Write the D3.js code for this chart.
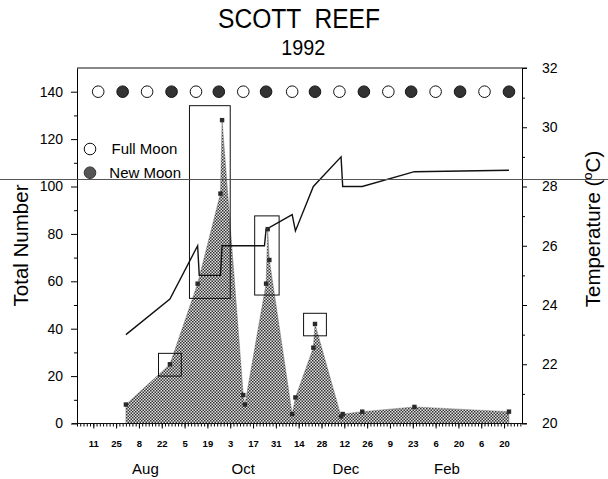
<!DOCTYPE html>
<html>
<head>
<meta charset="utf-8">
<script src="https://cdn.jsdelivr.net/npm/d3@7"></script>
<style>
  body { margin: 0; background: #fff; }
  svg { display: block; font-family: "Liberation Sans", Arial, Helvetica, sans-serif; }
</style>
</head>
<body>
<div id="chart"></div>
<script>
const parse = d3.timeParse('%Y-%m-%d');

// total number of larvae per sampling date
const countDates = ['1992-07-31', '1992-08-27', '1992-09-13', '1992-09-27', '1992-09-28',
  '1992-10-11', '1992-10-12', '1992-10-25', '1992-10-26', '1992-10-27', '1992-11-10',
  '1992-11-12', '1992-11-23', '1992-11-24', '1992-12-10', '1992-12-11', '1992-12-23',
  '1993-01-24', '1993-03-23'];
const countValues = [8, 25, 59, 97, 128, 12, 8, 59, 82, 69, 4, 11, 32, 42, 3, 4, 5, 7, 5];

// water temperature (°C)
const tempDates = ['1992-07-31', '1992-08-27', '1992-09-13', '1992-09-14', '1992-09-27',
  '1992-09-28', '1992-10-24', '1992-10-25', '1992-11-10', '1992-11-12', '1992-11-23',
  '1992-12-10', '1992-12-11', '1992-12-23', '1993-01-24', '1993-03-23'];
const tempValues = [23.0, 24.2, 26.0, 25.0, 25.0, 26.0, 26.0, 26.55, 27.05, 26.5, 28.0,
  29.0, 28.0, 28.0, 28.5, 28.55];

// lunar phases
const moonDates = ['1992-07-14', '1992-07-29', '1992-08-13', '1992-08-28', '1992-09-12',
  '1992-09-26', '1992-10-11', '1992-10-25', '1992-11-10', '1992-11-24', '1992-12-09',
  '1992-12-24', '1993-01-08', '1993-01-22', '1993-02-06', '1993-02-21', '1993-03-08',
  '1993-03-23'];
const moonPhases = ['full', 'new', 'full', 'new', 'full', 'new', 'full', 'new', 'full',
  'new', 'full', 'new', 'full', 'new', 'full', 'new', 'full', 'new'];
const moonLevel = 140;

// highlighted spawning windows (date range, value range)
const boxStarts = ['1992-08-20', '1992-09-08', '1992-10-18', '1992-11-17'];
const boxEnds = ['1992-09-03', '1992-10-03', '1992-11-02', '1992-12-01'];
const boxLows = [20, 52.8, 54.2, 37];
const boxHighs = [29.6, 134.1, 87.6, 46.5];

const monthLabels = ['Aug', 'Oct', 'Dec', 'Feb'];
const monthDates = ['1992-08-12', '1992-10-11', '1992-12-13', '1993-02-13'];

const counts = countDates.map((d, i) => ({ date: parse(d), value: countValues[i] }));
const temps = tempDates.map((d, i) => ({ date: parse(d), value: tempValues[i] }));
const moons = moonDates.map((d, i) => ({ date: parse(d), phase: moonPhases[i] }));
const boxes = boxStarts.map((d, i) => ({
  start: parse(d), end: parse(boxEnds[i]), low: boxLows[i], high: boxHighs[i]
}));

const width = 608, height = 479;
const plot = { left: 77, right: 522, top: 68, bottom: 423.5 };

const x = d3.scaleTime()
  .domain([parse('1992-07-01'), parse('1993-03-31')])
  .range([plot.left, plot.right]);
const y = d3.scaleLinear().domain([0, 150]).range([plot.bottom, plot.top]);
const yT = d3.scaleLinear().domain([20, 32]).range([plot.bottom, plot.top]);

const svg = d3.select('#chart').append('svg')
  .attr('width', width).attr('height', height);

const defs = svg.append('defs');
const pat = defs.append('pattern')
  .attr('id', 'check').attr('patternUnits', 'userSpaceOnUse')
  .attr('width', 3).attr('height', 3);
pat.append('rect').attr('width', 3).attr('height', 3).attr('fill', '#e2e2e2');
pat.append('rect').attr('width', 1.5).attr('height', 1.5).attr('fill', '#333');
pat.append('rect').attr('x', 1.5).attr('y', 1.5).attr('width', 1.5).attr('height', 1.5).attr('fill', '#333');

// titles
svg.append('text')
  .attr('x', 299).attr('y', 28.3)
  .attr('text-anchor', 'middle')
  .attr('font-size', 27)
  .attr('textLength', 162).attr('lengthAdjust', 'spacingAndGlyphs')
  .style('white-space', 'pre')
  .text('SCOTT  REEF');
svg.append('text')
  .attr('x', 303.3).attr('y', 55)
  .attr('text-anchor', 'middle')
  .attr('font-size', 22)
  .attr('textLength', 44).attr('lengthAdjust', 'spacingAndGlyphs')
  .text('1992');

// area of total number
const area = d3.area()
  .x(d => x(d.date))
  .y0(y(0))
  .y1(d => y(d.value));
svg.append('path')
  .datum(counts)
  .attr('d', area)
  .attr('fill', 'url(#check)')
  .attr('stroke', '#666')
  .attr('stroke-width', 0.4);

// boxes
svg.append('g').selectAll('rect')
  .data(boxes)
  .join('rect')
  .attr('x', d => x(d.start))
  .attr('y', d => y(d.high))
  .attr('width', d => x(d.end) - x(d.start))
  .attr('height', d => y(d.low) - y(d.high))
  .attr('fill', 'none')
  .attr('stroke', '#111')
  .attr('stroke-width', 1);

// temperature line
const line = d3.line().x(d => x(d.date)).y(d => yT(d.value));
svg.append('path')
  .datum(temps)
  .attr('d', line)
  .attr('fill', 'none')
  .attr('stroke', '#111')
  .attr('stroke-width', 1.4)
  .attr('stroke-linejoin', 'miter');

// count markers
svg.append('g').selectAll('rect')
  .data(counts)
  .join('rect')
  .attr('x', d => x(d.date) - 2.2)
  .attr('y', d => y(d.value) - 2.2)
  .attr('width', 4.4).attr('height', 4.4)
  .attr('fill', '#2a2a2a');

// moon phases
svg.append('g').selectAll('circle')
  .data(moons)
  .join('circle')
  .attr('cx', d => x(d.date))
  .attr('cy', y(moonLevel))
  .attr('r', 5.8)
  .attr('fill', d => d.phase === 'new' ? '#333' : '#fff')
  .attr('stroke', '#111')
  .attr('stroke-width', 1);

// legend
const legend = svg.append('g').attr('font-size', 15);
legend.append('circle').attr('cx', 90).attr('cy', 149).attr('r', 5.8)
  .attr('fill', '#fff').attr('stroke', '#111');
legend.append('text').attr('x', 111.5).attr('y', 154).text('Full Moon');
legend.append('circle').attr('cx', 90).attr('cy', 172.7).attr('r', 5.8)
  .attr('fill', '#555').attr('stroke', '#333');
legend.append('text').attr('x', 109.3).attr('y', 178.3).text('New Moon');

// left axis
const leftMinor = svg.append('g')
  .attr('transform', `translate(${plot.left},0)`)
  .call(d3.axisLeft(y).tickValues(d3.range(10, 150, 20)).tickSize(3).tickSizeOuter(0).tickFormat(''));
leftMinor.select('.domain').remove();
const leftAxis = svg.append('g')
  .attr('transform', `translate(${plot.left},0)`)
  .call(d3.axisLeft(y).tickValues(d3.range(0, 141, 20)).tickSize(6).tickPadding(8).tickSizeOuter(0));
leftAxis.selectAll('text').attr('font-size', 14).attr('font-family', null);

// right axis
const rightMinor = svg.append('g')
  .attr('transform', `translate(${plot.right},0)`)
  .call(d3.axisRight(yT).tickValues(d3.range(21, 32, 2)).tickSize(3).tickSizeOuter(0).tickFormat(''));
rightMinor.select('.domain').remove();
const rightAxis = svg.append('g')
  .attr('transform', `translate(${plot.right},0)`)
  .call(d3.axisRight(yT).tickValues(d3.range(20, 33, 2)).tickSize(5).tickPadding(15).tickSizeOuter(0));
rightAxis.selectAll('text').attr('font-size', 14).attr('font-family', null);

// top frame
svg.append('line')
  .attr('x1', plot.left).attr('x2', plot.right + 5)
  .attr('y1', y(150)).attr('y2', y(150))
  .attr('stroke', '#111');

// bottom axis
const minorDays = d3.timeDay.range(parse('1992-07-01'), parse('1993-04-01'), 2);
const majorDays = d3.timeDay.range(parse('1992-07-11'), parse('1993-03-21'), 14);
const bMinor = svg.append('g')
  .attr('transform', `translate(0,${plot.bottom})`)
  .call(d3.axisBottom(x).tickValues(minorDays).tickSize(3).tickSizeOuter(0).tickFormat(''));
bMinor.select('.domain').remove();
const bMajor = svg.append('g')
  .attr('transform', `translate(0,${plot.bottom})`)
  .call(d3.axisBottom(x).tickValues(majorDays).tickSize(5).tickPadding(12)
    .tickSizeOuter(0).tickFormat(d3.timeFormat('%-d')));
bMajor.select('.domain').remove();
bMajor.selectAll('text').attr('font-size', 9.5).attr('font-weight', 'bold').attr('font-family', null);
svg.append('line')
  .attr('x1', plot.left - 5).attr('x2', plot.right + 5)
  .attr('y1', plot.bottom).attr('y2', plot.bottom)
  .attr('stroke', '#111');

svg.append('g').selectAll('text')
  .data(monthLabels)
  .join('text')
  .attr('x', (d, i) => x(parse(monthDates[i])))
  .attr('y', 474)
  .attr('text-anchor', 'middle')
  .attr('font-size', 15)
  .text(d => d);

// axis titles
svg.append('text')
  .attr('transform', 'translate(28.3,245.5) rotate(-90)')
  .attr('text-anchor', 'middle')
  .attr('font-size', 20.5)
  .text('Total Number');

const tLabel = svg.append('text')
  .attr('transform', 'translate(600,229) rotate(-90)')
  .attr('text-anchor', 'middle')
  .attr('font-size', 20.5);
tLabel.append('tspan').text('Temperature (');
tLabel.append('tspan').attr('font-size', 13).attr('dy', -8).text('o');
tLabel.append('tspan').attr('dy', 8).text('C)');

// scan line across the page
svg.append('line')
  .attr('x1', 0).attr('x2', width)
  .attr('y1', 179.5).attr('y2', 179.5)
  .attr('stroke', '#555').attr('stroke-width', 1);
</script>
</body>
</html>
